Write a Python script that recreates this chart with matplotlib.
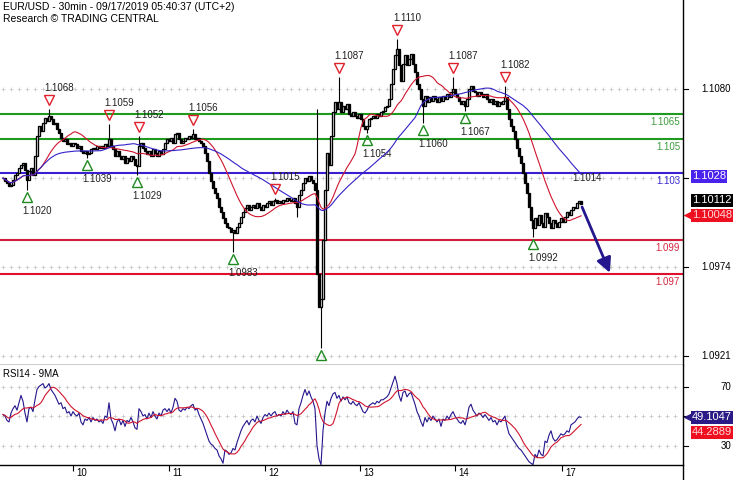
import matplotlib
matplotlib.use("Agg")
import matplotlib.pyplot as plt
import matplotlib.transforms as mtransforms
from matplotlib.lines import Line2D
import numpy as np
import pandas as pd

plt.rcParams['font.family'] = ['Liberation Sans', 'DejaVu Sans']

# EUR/USD 30min closes (bar 0 = 09/09 afternoon, last = 09/17 05:30)
closes = [
    1.1027, 1.1025, 1.1024, 1.1022, 1.1023, 1.1026, 1.1029, 1.1030, 1.1033, 1.1035,
    1.1036, 1.1032, 1.1026, 1.1031, 1.1033, 1.1029, 1.1040, 1.1052, 1.1058, 1.1055,
    1.1060, 1.1063, 1.1061, 1.1064, 1.1062, 1.1059, 1.1060, 1.1056, 1.1054, 1.1051,
    1.1049, 1.1050, 1.1047, 1.1048, 1.1046, 1.1048, 1.1047, 1.1045, 1.1046, 1.1043,
    1.1042, 1.1043, 1.1041, 1.1042, 1.1044, 1.1045, 1.1044, 1.1046, 1.1045, 1.1046,
    1.1045, 1.1047, 1.1046, 1.1050, 1.1046, 1.1044, 1.1040, 1.1043, 1.1040, 1.1038,
    1.1040, 1.1036, 1.1039, 1.1037, 1.1040, 1.1038, 1.1035, 1.1034, 1.1046, 1.1048,
    1.1045, 1.1043, 1.1041, 1.1043, 1.1040, 1.1044, 1.1042, 1.1040, 1.1043, 1.1041,
    1.1044, 1.1048, 1.1050, 1.1049, 1.1051, 1.1048, 1.1053, 1.1054, 1.1050, 1.1048,
    1.1049, 1.1051, 1.1050, 1.1052, 1.1051, 1.1053, 1.1050, 1.1051, 1.1049, 1.1048,
    1.1046, 1.1042, 1.1037, 1.1030, 1.1025, 1.1021, 1.1018, 1.1015, 1.1010, 1.1007,
    1.1003, 1.1000, 1.0998, 1.0997, 1.0995, 1.0996, 1.0994, 1.0998, 1.1000, 1.1004,
    1.1007, 1.1009, 1.1011, 1.1008, 1.1010, 1.1011, 1.1009, 1.1012, 1.1010, 1.1008,
    1.1011, 1.1010, 1.1012, 1.1013, 1.1011, 1.1013, 1.1014, 1.1012, 1.1013, 1.1012,
    1.1014, 1.1013, 1.1015, 1.1014, 1.1013, 1.1015, 1.1012, 1.1010, 1.1017, 1.1020,
    1.1024, 1.1027, 1.1025, 1.1028, 1.1026, 1.1024, 1.1020, 1.0970, 1.0950, 1.0955,
    1.0990, 1.1020, 1.1042, 1.1035, 1.1052, 1.1066, 1.1072, 1.1068, 1.1072, 1.1066,
    1.1070, 1.1068, 1.1071, 1.1065, 1.1064, 1.1066, 1.1064, 1.1063, 1.1065, 1.1062,
    1.1058, 1.1056, 1.1058, 1.1062, 1.1063, 1.1064, 1.1063, 1.1065, 1.1064, 1.1066,
    1.1067, 1.1069, 1.1070, 1.1074, 1.1083, 1.1092, 1.1100, 1.1104, 1.1094, 1.1085,
    1.1095, 1.1100, 1.1094, 1.1098, 1.1101, 1.1095, 1.1090, 1.1083, 1.1080, 1.1074,
    1.1070, 1.1076, 1.1072, 1.1075, 1.1073, 1.1076, 1.1074, 1.1072, 1.1075, 1.1073,
    1.1076, 1.1074, 1.1077, 1.1075, 1.1078, 1.1080, 1.1077, 1.1075, 1.1073, 1.1071,
    1.1073, 1.1070, 1.1074, 1.1080, 1.1082, 1.1079, 1.1078, 1.1076, 1.1078, 1.1077,
    1.1075, 1.1077, 1.1074, 1.1072, 1.1074, 1.1071, 1.1073, 1.1070, 1.1072, 1.1071,
    1.1073, 1.1075, 1.1068, 1.1062, 1.1058, 1.1055, 1.1050, 1.1045, 1.1040, 1.1036,
    1.1030, 1.1024, 1.1018, 1.1010, 1.1002, 1.0997, 1.1003, 1.0999, 1.1005, 1.1000,
    1.0998, 1.1006, 1.1004, 1.1000, 1.0997, 1.1002, 1.1000, 1.0998, 1.1001, 1.1003,
    1.1001, 1.1004, 1.1007, 1.1005, 1.1008, 1.1010, 1.1009, 1.1012, 1.1013, 1.10112,
]

rsi = [
    51, 50, 47, 46, 52, 55, 57, 54, 59, 64,
    60, 52, 46, 55, 56, 53, 61, 68, 70, 71,
    72, 69, 70, 72, 68, 66, 64, 61, 58, 59,
    55, 56, 52, 53, 50, 53, 51, 50, 52, 46,
    44, 48, 47, 49, 46, 49, 47, 48, 46, 47,
    45, 50, 49, 59, 48, 45, 40, 46, 48, 44,
    47, 43, 47, 46, 49, 46, 42, 41, 55, 53,
    50, 51, 48, 52, 49, 53, 50, 48, 52, 50,
    54, 55, 53, 55, 52, 56, 62, 60, 54, 53,
    55, 54, 56, 55, 57, 58, 54, 55, 51, 48,
    45, 41, 37, 33, 31, 30, 28, 27, 23, 21,
    18, 27, 26, 24, 25, 28, 27, 32, 36, 40,
    43, 45, 47, 44, 47, 48, 46, 50, 47, 45,
    49, 51, 50, 52, 50, 52, 53, 50, 51, 50,
    53, 51, 54, 52, 51, 53, 45, 44, 55, 59,
    64, 68, 64, 67, 63, 60, 55, 30, 21, 17,
    40, 52, 60, 57, 62, 65, 66, 62, 64, 60,
    63, 61, 63, 59, 58, 60, 58, 57, 59, 56,
    53, 52, 54, 57, 58, 59, 58, 60, 59, 61,
    61, 62, 63, 65, 69, 73, 77, 72, 64, 60,
    66, 67, 63, 65, 66, 62, 58, 53, 50, 46,
    43, 49, 46, 49, 47, 50, 48, 46, 48, 43,
    48, 47, 50, 48, 51, 53, 50, 48, 46, 45,
    47, 44, 49, 56, 58, 54, 52, 50, 52, 51,
    49, 51, 49, 47, 49, 46, 47, 44, 47, 46,
    48, 50, 43, 38, 36, 34, 32, 30, 28, 27,
    25, 23, 21, 19, 18, 17, 24, 22, 27, 24,
    23, 33, 32, 37, 40, 35, 33, 34, 36, 38,
    37, 38, 40, 39, 44, 45, 46, 48, 49.5, 49.1047,
]

# long wicks visible on the chart {bar: price}
high_wicks = {23: 1.1068, 53: 1.1059, 68: 1.1052, 95: 1.1056, 136: 1.1015,
              157: 1.1068, 168: 1.1087, 197: 1.1110, 225: 1.1087, 251: 1.1082}
low_wicks = {12: 1.1020, 42: 1.1039, 67: 1.1029, 115: 1.0983, 147: 1.1004,
             159: 1.0926, 182: 1.1054, 210: 1.1060, 231: 1.1067, 265: 1.0992}

peak_bars = [23, 53, 68, 95, 136, 168, 197, 225, 251]
peak_prices = [1.1068, 1.1059, 1.1052, 1.1056, 1.1015, 1.1087, 1.1110, 1.1087, 1.1082]
peak_labels = ["1.1068", "1.1059", "1.1052", "1.1056", "1.1015", "1.1087", "1.1110", "1.1087", "1.1082"]
trough_bars = [12, 42, 67, 115, 159, 182, 210, 231, 265]
trough_prices = [1.1020, 1.1039, 1.1029, 1.0983, 1.0926, 1.1054, 1.1060, 1.1067, 1.0992]
trough_labels = ["1.1020", "1.1039", "1.1029", "1.0983", "", "1.1054", "1.1060", "1.1067", "1.0992"]

levels = [1.1065, 1.105, 1.103, 1.099, 1.097]
level_labels = ["1.1065", "1.105", "1.103", "1.099", "1.097"]
level_colors = ["#1e9a1e", "#1e9a1e", "#3a1fd2", "#d21c3c", "#e0102e"]
level_text_colors = ["#3c9c3c", "#3c9c3c", "#3a2ad2", "#d4283f", "#d4283f"]

day_bars = [35, 83, 131, 178.5, 226, 279.5]
day_labels = ["10", "11", "12", "13", "14", "17"]
price_ticks = [1.1080, 1.1027, 1.0974, 1.0921]
price_tick_labels = ["1.1080", "", "1.0974", "1.0921"]
rsi_ticks = [70, 50, 30]
rsi_tick_labels = ["70", "", "30"]

target_bar, target_price = 304, 1.0969
note_bar, note_price, note_text = 292, 1.1027, "1.1014"

fast_ma_value, fast_ma_text = 1.10048, "1.10048"
slow_ma_value, slow_ma_text = 1.1028, "1.1028"
last_value, last_text = 1.10112, "1.10112"
rsi_value, rsi_text = 49.1047, "49.1047"
rsi_ma_value, rsi_ma_text = 44.2889, "44.2889"

c = np.array(closes)
o = np.r_[c[0], c[:-1]]
x = np.arange(len(c))
ma_fast = pd.Series(c).rolling(20, min_periods=1).mean()
ma_slow = pd.Series(c).rolling(50, min_periods=1).mean()
rsi_ma = pd.Series(rsi).rolling(9, min_periods=1).mean()

W, H = 735, 480
fig = plt.figure(figsize=(W / 100, H / 100), dpi=100)
axw = 683 / W
ax = fig.add_axes([0, 1 - 365 / H, axw, 365 / H])
ax2 = fig.add_axes([0, 1 - 465 / H, axw, 100 / H])

for a in (ax, ax2):
    a.set_xlim(-1.5, 340)
    for s in ("left", "top", "right"):
        a.spines[s].set_visible(False)
    a.spines["bottom"].set_linewidth(1.0)
    a.set_yticks([])
ax.set_xticks([])
ax.set_ylim(1.09156, 1.11330)
ax2.set_ylim(16.8, 84.6)

# dotted "+" grid rows
gx = np.arange(0, 340, 4)
for v in price_ticks:
    ax.plot(gx, [v] * len(gx), ls="none", marker="+", ms=3, mew=0.5, color="#c4c4c4", zorder=0)
for v in rsi_ticks:
    ax2.plot(gx, [v] * len(gx), ls="none", marker="+", ms=3, mew=0.5, color="#c4c4c4", zorder=0)

# support / resistance levels
for lv, lt, lc, tc in zip(levels, level_labels, level_colors, level_text_colors):
    ax.axhline(lv, color=lc, lw=1.5, zorder=1)
    ax.annotate(lt, xy=(1, lv), xycoords=ax.get_yaxis_transform(), xytext=(-3, -8),
                textcoords="offset pixels", ha="right", va="center", fontsize=7, color=tc)

# candles
body = c - o
ax.bar(x, body, bottom=o, width=0.9, color=np.where(body >= 0, "white", "black"),
       edgecolor="black", linewidth=0.95, zorder=3)
for b, p in high_wicks.items():
    ax.vlines(b, max(o[b], c[b]), p, color="black", lw=0.8, zorder=3)
for b, p in low_wicks.items():
    ax.vlines(b, p, min(o[b], c[b]), color="black", lw=0.8, zorder=3)

ax.plot(x, ma_fast, color="#d0142e", lw=0.8, zorder=4)
ax.plot(x, ma_slow, color="#3322c8", lw=0.8, zorder=4)

# high / low markers
for b, p, t in zip(peak_bars, peak_prices, peak_labels):
    tr = mtransforms.offset_copy(ax.transData, fig=fig, x=0, y=9, units="dots")
    ax.plot([b], [p], marker="v", ms=7, mfc="none", mec="#e0202a", mew=1, transform=tr, zorder=5)
    ax.annotate(t, xy=(b, p), xytext=(10, 21), textcoords="offset pixels",
                ha="center", va="center", fontsize=7, color="#202020")
for b, p, t in zip(trough_bars, trough_prices, trough_labels):
    tr = mtransforms.offset_copy(ax.transData, fig=fig, x=0, y=-7, units="dots")
    ax.plot([b], [p], marker="^", ms=7, mfc="none", mec="#1f8a1f", mew=1, transform=tr, zorder=5)
    if t:
        ax.annotate(t, xy=(b, p), xytext=(10, -21), textcoords="offset pixels",
                    ha="center", va="center", fontsize=7, color="#202020")
ax.text(note_bar, note_price, note_text, ha="center", va="center", fontsize=7, color="#202020")

# projection arrow
ax.annotate("", xy=(target_bar, target_price), xytext=(x[-1], c[-1]), annotation_clip=False,
            arrowprops=dict(arrowstyle="-|>", color="#24168c", lw=2, mutation_scale=22))

# RSI panel
ax2.plot(np.arange(len(rsi)), rsi, color="#24168c", lw=0.8)
ax2.plot(np.arange(len(rsi)), rsi_ma, color="#d0142e", lw=0.8)
ax2.text(3 / 683, 1 - 9 / 100, "RSI14 - 9MA", transform=ax2.transAxes, fontsize=7, va="center")

ax2.set_xticks(day_bars)
ax2.set_xticklabels(day_labels, fontsize=7)
ax2.tick_params(axis="x", length=4, width=0.8, pad=0, direction="out")
shift = mtransforms.ScaledTranslation(3 / 100, 3 / 100, fig.dpi_scale_trans)
for lab in ax2.get_xticklabels():
    lab.set_ha("left")
    lab.set_transform(lab.get_transform() + shift)

# right axis: ticks and labels
for a, ticks, labels in ((ax, price_ticks, price_tick_labels), (ax2, rsi_ticks, rsi_tick_labels)):
    yt = a.get_yaxis_transform()
    for v, t in zip(ticks, labels):
        a.plot([1, 1 + 5 / 683], [v, v], color="black", lw=0.8, transform=yt, clip_on=False)
        a.text(1 + 48 / 683, v, t, transform=yt, ha="right", va="center", fontsize=7, clip_on=False)


def tag(a, v, text, fc, tc, pointer=False, dy=0):
    tr = mtransforms.offset_copy(a.get_yaxis_transform(), fig=fig, x=0, y=dy, units="dots")
    a.text(1 + 9 / 683, v, text, transform=tr, ha="left", va="center", color=tc, fontsize=8,
           bbox=dict(boxstyle="square,pad=0.12", fc=fc, ec="none"), clip_on=False, zorder=7)
    if pointer:
        a.plot([1 + 7 / 683], [v], marker="<", ms=10, color=fc, mec="none", transform=tr,
               clip_on=False, zorder=6)


tag(ax, slow_ma_value, slow_ma_text, "#4a22ee", "white")
tag(ax, last_value, last_text, "black", "white", dy=4)
tag(ax, fast_ma_value, fast_ma_text, "#ee1020", "#ffd8d8", pointer=True)
tag(ax2, rsi_value, rsi_text, "#2a1a86", "white", pointer=True)
tag(ax2, rsi_ma_value, rsi_ma_text, "#ee1020", "#ffd8d8", dy=-8)

fig.add_artist(Line2D([axw, axw], [0, 1], transform=fig.transFigure, color="black", lw=1.0))

fig.text(3 / W, 1 - 7 / H, "EUR/USD - 30min - 09/17/2019 05:40:37 (UTC+2)", fontsize=7.5, va="center")
fig.text(3 / W, 1 - 19 / H, "Research \u00a9 TRADING CENTRAL", fontsize=7.5, va="center")

fig.savefig("out.png", dpi=100)
